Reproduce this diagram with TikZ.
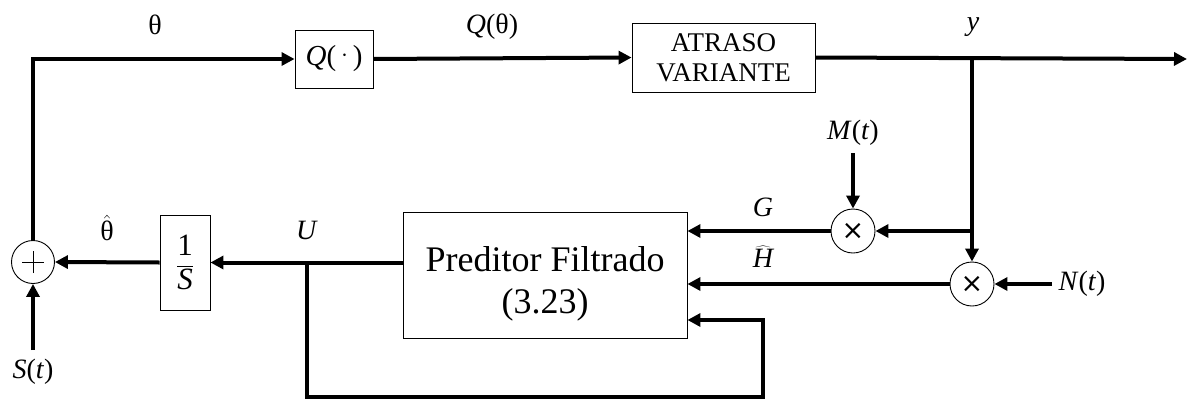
\documentclass[tikz,border=0pt]{standalone}
\usepackage{fontspec}
\setmainfont{Liberation Serif}
\newfontfamily\djv{DejaVu Sans}
\usetikzlibrary{arrows.meta,calc}
\begin{document}
\begin{tikzpicture}[x=1pt,y=-1pt,
  wire/.style={line width=4pt},
  arr/.style={wire,-{Triangle[length=13pt,width=13pt]}},
  blk/.style={draw,line width=0.9pt,inner sep=0pt,align=center},
  mult/.style={draw,circle,line width=0.9pt,minimum size=44pt,inner sep=0pt},
  lbl/.style={font=\fontsize{28}{32}\selectfont,inner sep=0pt}]
\useasboundingbox (0,0) rectangle (1187,402);
% blocks
\node[blk,minimum width=78pt,minimum height=58pt,font=\fontsize{29}{32}\selectfont] (q) at (334,59) {\textit{Q}(\,\raisebox{0.3ex}{$\cdot$}\,)};
\node[blk,minimum width=183pt,minimum height=69pt,font=\fontsize{27}{30}\selectfont] (atr) at (723.5,57.5) {ATRASO\\VARIANTE};
\node[blk,minimum width=50pt,minimum height=95pt,font=\fontsize{31}{34}\selectfont] (integ) at (185,262.5) {$\displaystyle\frac{\hbox{1}}{\hbox{\itshape S}}$};
\node[blk,minimum width=284pt,minimum height=126pt] (pred) at (545,275) {};
\node[align=center,inner sep=0pt,font=\fontsize{36}{42}\selectfont] (predtxt) at (545,284) {Preditor Filtrado\\(3.23)};
\node[mult,minimum size=43pt] (sum) at (33,262) {};
\node[mult,font=\djv\fontsize{27}{27}\selectfont] (m1) at (853,231) {×};
\node[mult,font=\djv\fontsize{27}{27}\selectfont] (m2) at (972,284) {×};
\draw[line width=1pt] ([xshift=-11pt]sum.center) -- ([xshift=11pt]sum.center)
  ([yshift=-11pt]sum.center) -- ([yshift=11pt]sum.center);
% coordinates
\coordinate (br) at (972,59);
\coordinate (out) at (1187,59);
\coordinate (br2) at (972,231);
\coordinate (mt) at (853,153);
\coordinate (nt) at (1052,284);
\coordinate (st) at (33,350);
\coordinate (ub) at (307,262);
\coordinate (fb1) at (307,397);
\coordinate (fb2) at (763,397);
\coordinate (fb3) at (763,320);
% connectors
\draw[arr] (sum.north) |- (q.west);
\draw[arr] (q.east) -- (atr.west);
\draw[arr] (atr.east) -- (out);
\draw[arr] (br) -- (m2.north);
\draw[arr] (br2) -- (m1.east);
\draw[arr] (mt) -- (m1.north);
\draw[arr] (nt) -- (m2.east);
\draw[arr] (m1.west) -- (pred.east |- m1.west);
\draw[arr] (m2.west) -- (pred.east |- m2.west);
\draw[arr] (pred.west |- integ.east) -- (integ.east);
\draw[arr] (integ.west) -- (sum.east);
\draw[arr] (st) -- (sum.south);
\draw[arr] (ub) -- (fb1) -- (fb2) -- (fb3) -- (pred.east |- fb3);
% labels
\node[lbl] (lth) at (155,25) {θ};
\node[lbl] (lqth) at (492,27) {\textit{Q}(θ)};
\node[lbl] (ly) at (973,27) {\textit{y}};
\node[lbl] (lu) at (307,230) {\textit{U}};
\node[lbl] (lthh) at (107,228) {$\hat{\hbox{θ}}$};
\node[lbl] (lg) at (763,207) {\textit{G}};
\node[lbl] (lh) at (763,257) {$\widehat{\hbox{\itshape H}}$};
\node[lbl] (lm) at (853,133) {\textit{M}(\textit{t})};
\node[lbl] (ln) at (1082,284) {\textit{N}(\textit{t})};
\node[lbl] (ls) at (33,372) {\textit{S}(\textit{t})};
\end{tikzpicture}
\end{document}
